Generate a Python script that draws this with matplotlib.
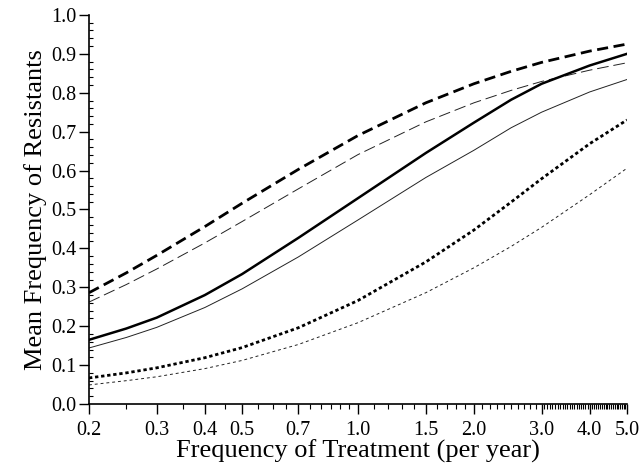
import numpy as np
import matplotlib
matplotlib.use('Agg')
import matplotlib.pyplot as plt
from matplotlib.ticker import FixedLocator, NullFormatter

plt.rcParams['font.family'] = ['Liberation Serif', 'DejaVu Serif']

# treatment frequency (per year)
freq = [0.2, 0.25, 0.3, 0.4, 0.5, 0.7, 1.0, 1.5, 2.0, 2.5, 3.0, 4.0, 5.0]

# mean frequency of resistants
thick_dashed = [0.286, 0.337, 0.382, 0.456, 0.516, 0.603, 0.690, 0.774, 0.823, 0.855, 0.878, 0.907, 0.925]
thin_dashed = [0.262, 0.307, 0.347, 0.414, 0.469, 0.553, 0.641, 0.725, 0.774, 0.806, 0.829, 0.858, 0.877]
thick_solid = [0.165, 0.194, 0.222, 0.280, 0.334, 0.427, 0.529, 0.645, 0.723, 0.782, 0.823, 0.870, 0.900]
thin_solid = [0.144, 0.171, 0.197, 0.248, 0.296, 0.378, 0.473, 0.582, 0.652, 0.710, 0.750, 0.802, 0.834]
thick_dotted = [0.067, 0.080, 0.093, 0.119, 0.145, 0.196, 0.266, 0.365, 0.447, 0.519, 0.579, 0.669, 0.730]
thin_dotted = [0.049, 0.060, 0.070, 0.091, 0.112, 0.153, 0.209, 0.286, 0.350, 0.405, 0.454, 0.538, 0.606]

xticks = [0.2, 0.3, 0.4, 0.5, 0.7, 1.0, 1.5, 2.0, 3.0, 4.0, 5.0]
yticks = [0.0, 0.1, 0.2, 0.3, 0.4, 0.5, 0.6, 0.7, 0.8, 0.9, 1.0]

fig = plt.figure(figsize=(6.42, 4.66), dpi=100)
ax = fig.add_axes([0.1386, 0.133, 0.838, 0.835])

ax.plot(freq, thick_dashed, color='black', lw=2.0, dashes=(4, 2))
ax.plot(freq, thin_dashed, color='#222222', lw=0.7, dashes=(12, 5))
ax.plot(freq, thick_solid, color='black', lw=1.8)
ax.plot(freq, thin_solid, color='#222222', lw=0.7)
ax.plot(freq, thick_dotted, color='black', lw=2.0, dashes=(1.2, 1.0))
ax.plot(freq, thin_dotted, color='#222222', lw=0.7, dashes=(3, 3))

ax.set_xscale('log')
ax.set_xlim(0.2, 5.0)
ax.set_ylim(0.0, 1.0)

ax.xaxis.set_major_locator(FixedLocator(xticks))
ax.set_xticklabels([f'{v:.1f}' for v in xticks])
minor_x = list(np.arange(0.25, 1.0, 0.05)) + list(np.arange(1.1, 3.0, 0.1)) + list(np.arange(3.05, 5.0, 0.05))
ax.xaxis.set_minor_locator(FixedLocator(minor_x))
ax.xaxis.set_minor_formatter(NullFormatter())

ax.yaxis.set_major_locator(FixedLocator(yticks))
ax.set_yticklabels([f'{v:.1f}' for v in yticks])
ax.yaxis.set_minor_locator(FixedLocator(np.arange(0.02, 1.0, 0.02)))

ax.spines['top'].set_visible(False)
ax.spines['right'].set_visible(False)
ax.spines['left'].set_linewidth(1.2)
ax.spines['bottom'].set_linewidth(1.2)

ax.tick_params(axis='x', which='major', direction='out', length=7, width=1.0, labelsize=14.5, pad=5)
ax.tick_params(axis='x', which='minor', direction='out', length=3.5, width=0.8)
ax.tick_params(axis='y', which='major', direction='out', length=7, width=1.0, labelsize=14.5, pad=2)
ax.tick_params(axis='y', which='minor', direction='in', length=3, width=0.8)

ax.set_xlabel('Frequency of Treatment (per year)', fontsize=19, labelpad=0)
ax.set_ylabel('Mean Frequency of Resistants', fontsize=19, labelpad=3)

fig.savefig('out.png', dpi=100)
